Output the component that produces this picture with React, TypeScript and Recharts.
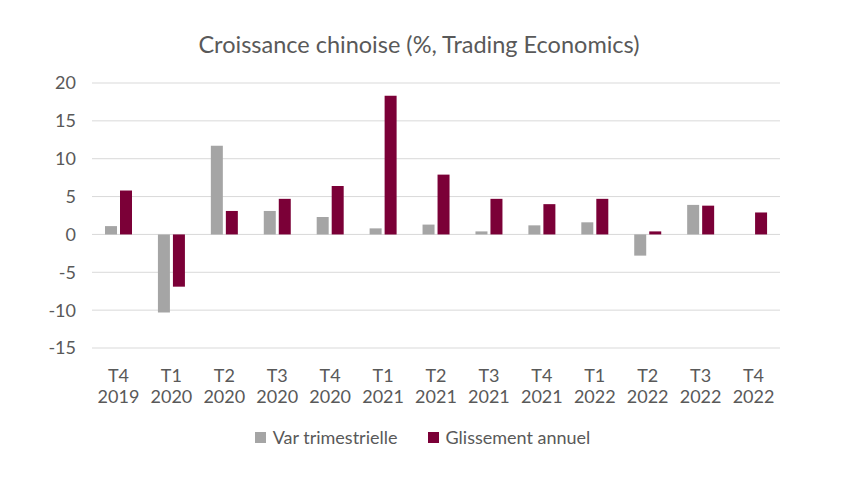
import React from 'react';
import { BarChart, Bar, XAxis, YAxis, CartesianGrid, Legend } from 'recharts';

const quarters = ['T4', 'T1', 'T2', 'T3', 'T4', 'T1', 'T2', 'T3', 'T4', 'T1', 'T2', 'T3', 'T4'];
const years = ['2019', '2020', '2020', '2020', '2020', '2021', '2021', '2021', '2021', '2022', '2022', '2022', '2022'];
const varTrimestrielle = [1.1, -10.3, 11.7, 3.1, 2.3, 0.8, 1.3, 0.4, 1.2, 1.6, -2.8, 3.9, 0];
const glissementAnnuel = [5.8, -6.9, 3.1, 4.7, 6.4, 18.3, 7.9, 4.7, 4.0, 4.7, 0.4, 3.8, 2.9];
const yTicks = [-15, -10, -5, 0, 5, 10, 15, 20];
const seriesNames = ['Var trimestrielle', 'Glissement annuel'];
const title = 'Croissance chinoise (%, Trading Economics)';

const data = quarters.map((q, i) => ({
  label: `${q}\n${years[i]}`,
  q,
  y: years[i],
  v1: varTrimestrielle[i],
  v2: glissementAnnuel[i],
}));

const FONT = 'Lato, "Open Sans", sans-serif';
const TEXT = '#595959';

const CatTick = (props: any) => {
  const { x, y, index } = props;
  return (
    <text x={x} y={y} textAnchor="middle" fill={TEXT} fontSize={18} fontFamily={FONT}>
      <tspan x={x} dy={34}>{quarters[index]}</tspan>
      <tspan x={x} dy={21}>{years[index]}</tspan>
    </text>
  );
};

const LegendContent = () => {
  const colors = ['#A5A5A5', '#7B0037'];
  return (
    <div style={{ display: 'flex', justifyContent: 'center', alignItems: 'center', fontFamily: FONT, fontSize: 18, color: TEXT, paddingRight: 18 }}>
      {seriesNames.map((n, i) => (
        <div key={n} style={{ display: 'flex', alignItems: 'center', marginRight: i === 0 ? 30 : 0 }}>
          <span style={{ display: 'inline-block', width: 11, height: 11, background: colors[i], marginRight: 7 }} />
          <span>{n}</span>
        </div>
      ))}
    </div>
  );
};

export default function App() {
  return (
    <div style={{ position: 'absolute', left: 0, top: 0, width: 863, height: 502, background: '#fff' }}>
      <div style={{ position: 'absolute', left: 0, top: 29, width: 838, textAlign: 'center', fontFamily: FONT, fontSize: 23.5, color: TEXT, lineHeight: '30px' }}>
        {title}
      </div>
      <BarChart
        width={863}
        height={502}
        data={data}
        margin={{ top: 83, right: 83, left: 0, bottom: 0 }}
        barGap={3}
        barCategoryGap="24%"
      >
        <CartesianGrid vertical={false} stroke="#D9D9D9" strokeWidth={1} />
        <XAxis
          dataKey="label"
          axisLine={false}
          tickLine={false}
          tickSize={0}
          tickMargin={0}
          height={130}
          interval={0}
          tick={<CatTick />}
        />
        <YAxis
          width={92}
          domain={[-15, 20]}
          ticks={yTicks}
          axisLine={false}
          tickLine={false}
          tickSize={0}
          tickMargin={16}
          interval={0}
          tick={{ fill: TEXT, fontSize: 18, fontFamily: FONT }}
        />
        <Legend
          content={<LegendContent />}
          wrapperStyle={{ position: 'absolute', top: 426, left: 0, width: 863, height: 24, bottom: 'auto' }}
        />
        <Bar dataKey="v1" name={seriesNames[0]} fill="#A5A5A5" barSize={12} isAnimationActive={false} />
        <Bar dataKey="v2" name={seriesNames[1]} fill="#7B0037" barSize={12} isAnimationActive={false} />
      </BarChart>
    </div>
  );
}
